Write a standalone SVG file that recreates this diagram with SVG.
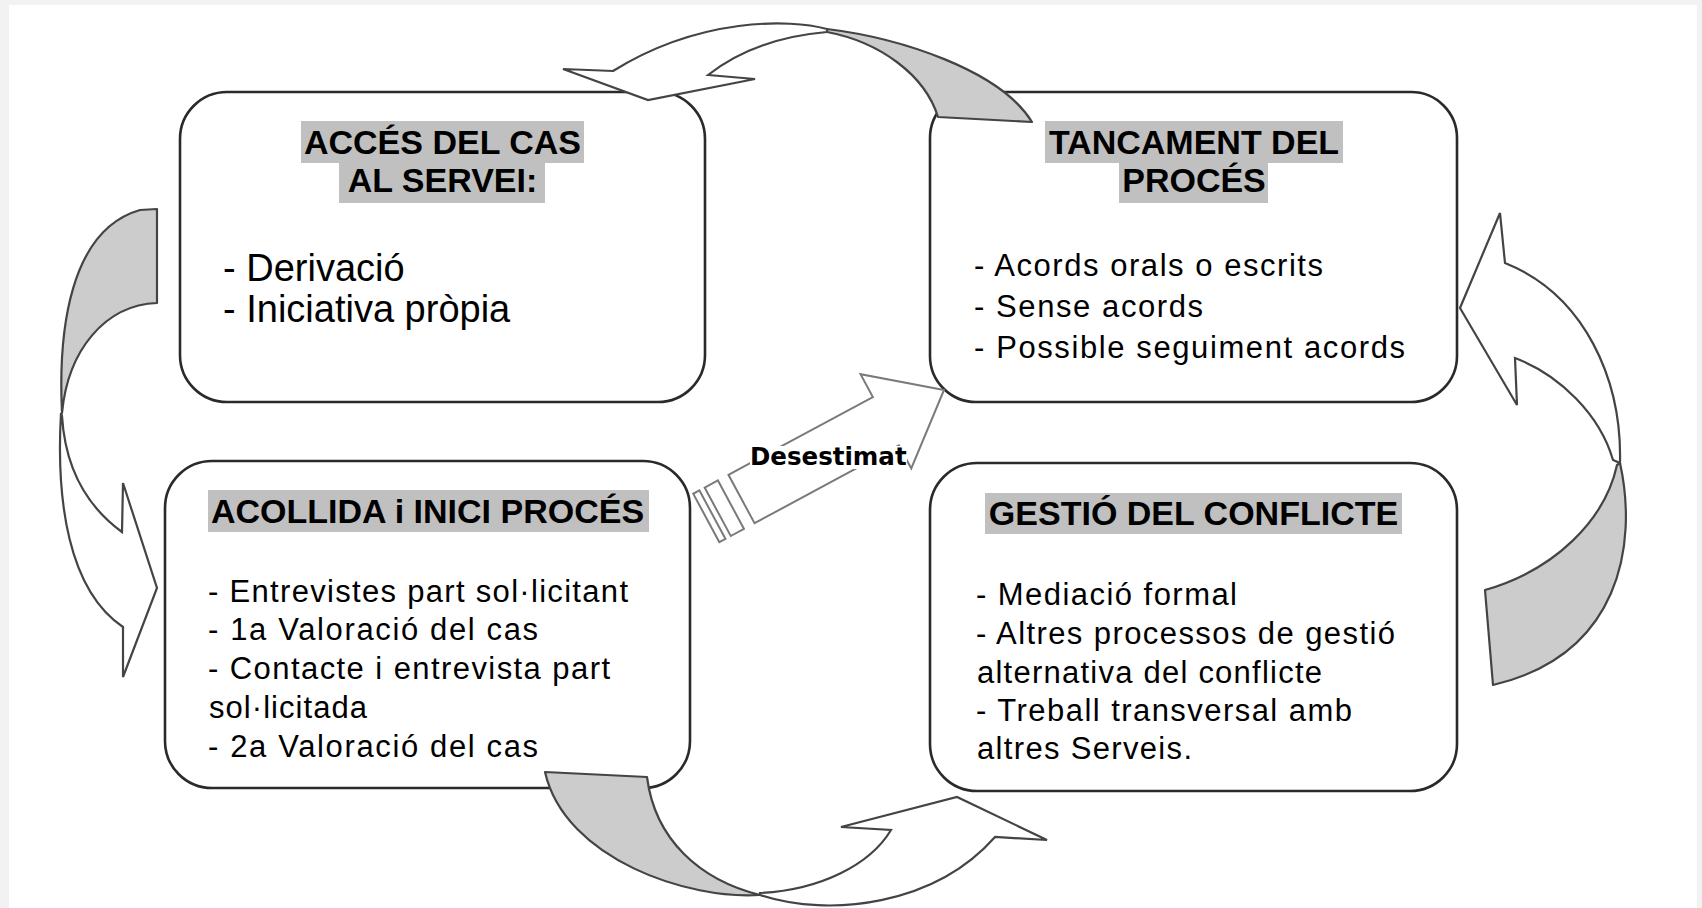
<svg xmlns="http://www.w3.org/2000/svg" width="1702" height="908" viewBox="0 0 1702 908">
<style>
.box{fill:#fff;stroke:#2a2a2a;stroke-width:2.6}
.hl{fill:#c0c0c0}
.h{font-family:"Liberation Sans",Arial,sans-serif;font-weight:bold;font-size:34px;text-anchor:middle;fill:#000}
.t{font-family:"Liberation Sans",Arial,sans-serif;font-size:31px;fill:#000}
.t1{font-size:38px}
.back{fill:#cccccc;stroke:#444;stroke-width:2.2;stroke-linejoin:round}
.front{fill:#fff;stroke:#444;stroke-width:2.2;stroke-linejoin:miter}
.strip{fill:#fff;stroke:#7a7a7a;stroke-width:2}
.lbl{font-family:"DejaVu Sans",Verdana,sans-serif;font-weight:bold;font-size:24.5px;fill:#000}
</style>
<rect x="0" y="0" width="1702" height="908" fill="#f2f2f2"/>
<rect x="9" y="5" width="1688" height="903" fill="#fff"/>

<g id="node-acces">
<rect class="box" x="180" y="92" width="525" height="310" rx="47"/>
<rect class="hl" x="301" y="121" width="283" height="42"/>
<rect class="hl" x="339" y="163" width="206" height="40"/>
<text class="h" x="442.5" y="154">ACCÉS DEL CAS</text>
<text class="h" x="442.5" y="192">AL SERVEI:</text>
<text class="t t1" x="223" y="281">- Derivació</text>
<text class="t t1" x="223" y="322">- Iniciativa pròpia</text>
</g>

<g id="node-tancament">
<rect class="box" x="930" y="92" width="527" height="310" rx="46"/>
<rect class="hl" x="1045" y="121" width="298" height="42"/>
<rect class="hl" x="1119" y="163" width="149" height="40"/>
<text class="h" x="1194" y="154">TANCAMENT DEL</text>
<text class="h" x="1194" y="192">PROCÉS</text>
<text class="t" x="974" y="276" textLength="349" lengthAdjust="spacing">- Acords orals o escrits</text>
<text class="t" x="974" y="317" textLength="229" lengthAdjust="spacing">- Sense acords</text>
<text class="t" x="974" y="358" textLength="431" lengthAdjust="spacing">- Possible seguiment acords</text>
</g>

<g id="node-acollida">
<rect class="box" x="165" y="461" width="525" height="327" rx="47"/>
<rect class="hl" x="208" y="490" width="441" height="42"/>
<text class="h" x="427.5" y="523">ACOLLIDA i INICI PROCÉS</text>
<text class="t" x="208" y="602" textLength="420" lengthAdjust="spacing">- Entrevistes part sol·licitant</text>
<text class="t" x="208" y="640" textLength="330" lengthAdjust="spacing">- 1a Valoració del cas</text>
<text class="t" x="208" y="679" textLength="402" lengthAdjust="spacing">- Contacte i entrevista part</text>
<text class="t" x="209" y="718" textLength="158" lengthAdjust="spacing">sol·licitada</text>
<text class="t" x="208" y="757" textLength="330" lengthAdjust="spacing">- 2a Valoració del cas</text>
</g>

<g id="node-gestio">
<rect class="box" x="930" y="463" width="527" height="328" rx="47"/>
<rect class="hl" x="985" y="493" width="417" height="41"/>
<text class="h" x="1193.5" y="525">GESTIÓ DEL CONFLICTE</text>
<text class="t" x="976" y="605" textLength="261" lengthAdjust="spacing">- Mediació formal</text>
<text class="t" x="976" y="644" textLength="419" lengthAdjust="spacing">- Altres processos de gestió</text>
<text class="t" x="977" y="683" textLength="345" lengthAdjust="spacing">alternativa del conflicte</text>
<text class="t" x="976" y="721" textLength="376" lengthAdjust="spacing">- Treball transversal amb</text>
<text class="t" x="977" y="759" textLength="215" lengthAdjust="spacing">altres Serveis.</text>
</g>

<g id="connectors">
<!-- top: Tancament -> Accés -->
<path class="back" d="M 827,29 C 900,38 1000,70 1032,122 L 938,117 C 925,75 880,42 827,32 Z"/>
<path class="front" d="M 827,29 C 790,19 700,17 613,71 L 563,69 L 648,100 L 755,79 L 708,75 C 740,50 780,36 827,32 Z"/>
<!-- left: Accés -> Acollida -->
<path class="back" d="M 62,413 C 58,330 70,230 140,210 L 157,209 L 157,303 C 105,305 68,350 62,413 Z"/>
<path class="front" d="M 61,413 C 56,500 68,590 123,627 L 123,677 L 157,588 L 123,483 L 122,532 C 85,505 65,465 62,416 Z"/>
<!-- bottom: Acollida -> Gestió -->
<path class="back" d="M 760,895 C 690,900 565,860 545,772 L 647,777 C 655,840 700,880 760,895 Z"/>
<path class="front" d="M 760,895 C 830,918 935,905 995,837 L 1047,840 L 957,797 L 841,827 L 891,830 C 870,865 820,890 760,893 Z"/>
<!-- right: Gestió -> Tancament -->
<path class="back" d="M 1620,463 C 1638,545 1620,655 1493,685 L 1485,590 C 1555,570 1605,520 1617,465 Z"/>
<path class="front" d="M 1620,463 C 1622,380 1585,295 1505,263 L 1500,213 L 1460,308 L 1517,405 L 1515,358 C 1560,375 1600,415 1613,460 Z"/>
<!-- Desestimat: Acollida -> Tancament -->
<g transform="translate(741.5,499) rotate(-28.3)">
<rect class="strip" x="-40" y="-27.5" width="7" height="55"/>
<rect class="strip" x="-27" y="-27.5" width="15" height="55"/>
<polygon class="strip" points="0,-27.5 164,-27.5 164,-53.5 230,0 164,53.5 164,27.5 0,27.5"/>
</g>
<rect x="750" y="446" width="157" height="23" fill="#fff"/>
<text class="lbl" x="750" y="465">Desestimat</text>
</g>
</svg>
